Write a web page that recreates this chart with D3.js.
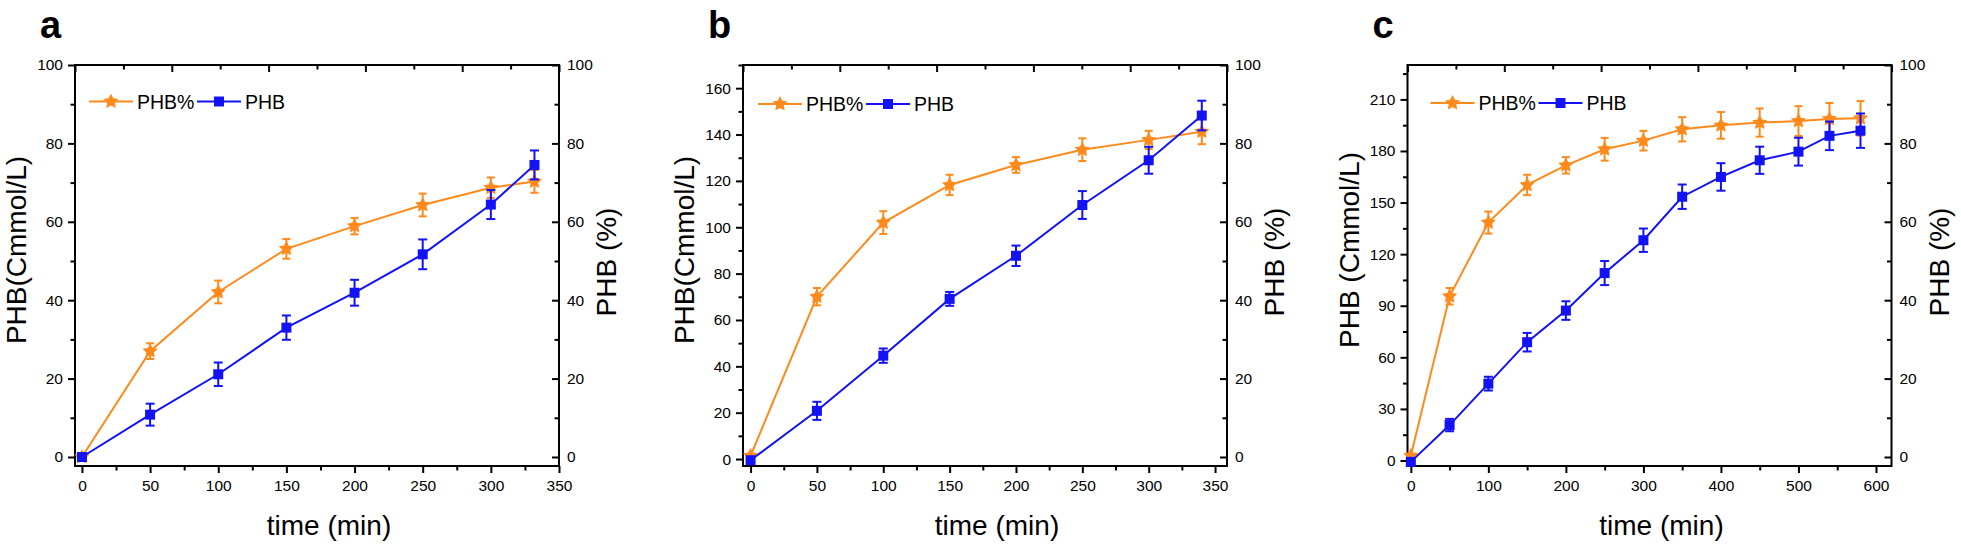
<!DOCTYPE html>
<html><head><meta charset="utf-8">
<script src="https://cdn.jsdelivr.net/npm/d3@7"></script>
<style>
html,body{margin:0;padding:0;background:#fff;}
svg{display:block;font-family:"Liberation Sans",Arial,sans-serif;}
</style></head><body>
<svg id="chart" width="1961" height="545"></svg>
<script>
// ---------------- data ----------------
const panelLabels = ["a", "b", "c"];
const seriesNames = ["PHB%", "PHB"];
const xTitle = "time (min)";
const yLeftTitles = ["PHB(Cmmol/L)", "PHB(Cmmol/L)", "PHB (Cmmol/L)"];
const yRightTitle = "PHB (%)";

const timeA = [0, 50, 100, 150, 200, 250, 300, 332];
const phbA = [0, 10.8, 21.1, 33.0, 41.9, 51.7, 64.4, 74.5];
const phbErrA = [0, 2.8, 3.0, 3.1, 3.3, 3.8, 3.7, 3.7];
const pctA = [0, 27.0, 42.1, 53.1, 58.9, 64.3, 68.7, 70.3];
const pctErrA = [0, 2.0, 2.9, 2.5, 2.1, 2.9, 2.6, 2.9];

const timeB = [0, 50, 100, 150, 200, 250, 300, 340];
const phbB = [-0.5, 20.8, 44.6, 69.1, 87.7, 109.6, 128.9, 148.2];
const phbErrB = [0, 3.9, 3.1, 3.0, 4.4, 6.0, 5.8, 6.4];
const pctB = [0.3, 40.9, 59.8, 69.4, 74.5, 78.4, 80.9, 83.0];
const pctErrB = [0, 2.2, 2.9, 2.6, 2.0, 2.9, 2.3, 3.2];

const timeC = [0, 50, 100, 150, 200, 250, 300, 350, 400, 450, 500, 540, 580];
const phbC = [-0.8, 20.6, 44.7, 68.8, 87.2, 109.0, 128.1, 153.4, 164.9, 174.6, 179.6, 188.8, 191.8];
const phbErrC = [0, 3.6, 4.0, 5.4, 5.4, 7.0, 6.8, 7.1, 8.0, 7.9, 8.1, 8.3, 10.0];
const pctC = [0.3, 41.0, 59.8, 69.4, 74.4, 78.5, 80.7, 83.6, 84.6, 85.3, 85.7, 86.2, 86.4];
const pctErrC = [0, 2.1, 2.8, 2.6, 2.1, 2.9, 2.5, 3.1, 3.4, 3.6, 3.8, 4.1, 4.4];

const xTicksA = [0, 50, 100, 150, 200, 250, 300, 350];
const xTicksB = [0, 50, 100, 150, 200, 250, 300, 350];
const xTicksC = [0, 100, 200, 300, 400, 500, 600];
const yTicksA = [0, 20, 40, 60, 80, 100];
const yTicksB = [0, 20, 40, 60, 80, 100, 120, 140, 160];
const yTicksC = [0, 30, 60, 90, 120, 150, 180, 210];
const rightTicks = [0, 20, 40, 60, 80, 100];
const topTicks = [0, 2, 4, 6, 8, 10];

// ---------------- layout ----------------
const layout = {
  top: 65, bottom: 466, width: 484,
  lefts: [75, 743, 1407.5],
  xDomains: [[-5.1, 350], [-5.7, 359], [-4.3, 620]],
  yDomains: [[-2.3, 100], [-3, 170], [-3.2, 230]],
  rightDomain: [-2.3, 100],
  legendOffsets: [14, 15, 23],
  legendYs: [101.5, 104, 103]
};
const ORANGE = "#ff8a1c";
const BLUE = "#1212f5";

// fat five-point star (Origin style), size = outer radius^2
const fatStar = {
  draw(ctx, size) {
    const R = Math.sqrt(size), r = R * 0.5;
    for (let k = 0; k < 10; k++) {
      const a = -Math.PI / 2 + k * Math.PI / 5;
      const rad = k % 2 ? r : R;
      const px = rad * Math.cos(a), py = rad * Math.sin(a);
      if (k === 0) ctx.moveTo(px, py); else ctx.lineTo(px, py);
    }
    ctx.closePath();
  }
};
const STAR_SIZE = 64, SQUARE_SIZE = 100;

const panels = [
  {time: timeA, phb: phbA, phbErr: phbErrA, pct: pctA, pctErr: pctErrA, xt: xTicksA, yt: yTicksA},
  {time: timeB, phb: phbB, phbErr: phbErrB, pct: pctB, pctErr: pctErrB, xt: xTicksB, yt: yTicksB},
  {time: timeC, phb: phbC, phbErr: phbErrC, pct: pctC, pctErr: pctErrC, xt: xTicksC, yt: yTicksC}
];

const svg = d3.select("#chart");

function minorOf(ticks, domain) {
  const step = ticks[1] - ticks[0];
  const out = [];
  for (let v = ticks[0] - step / 2; v <= domain[1] + 1e-9; v += step) {
    if (v >= domain[0]) out.push(v);
  }
  return out;
}

panels.forEach((p, i) => {
  const L = layout.lefts[i], R = L + layout.width, T = layout.top, B = layout.bottom;
  const x = d3.scaleLinear().domain(layout.xDomains[i]).range([L, R]);
  const yL = d3.scaleLinear().domain(layout.yDomains[i]).range([B, T]);
  const yR = d3.scaleLinear().domain(layout.rightDomain).range([B, T]);
  const xTop = d3.scaleLinear().domain([0, 10]).range([L, R]);
  const g = svg.append("g");

  const styleAxis = sel => {
    sel.select(".domain").remove();
    sel.selectAll("line").attr("stroke", "#000").attr("stroke-width", 2);
    sel.selectAll("text").attr("fill", "#000").style("font-size", "15.5px")
      .style("font-family", "'Liberation Sans', Arial, sans-serif");
  };

  g.append("g").attr("transform", `translate(${L},0)`)
    .call(d3.axisLeft(yL).tickValues(p.yt).tickSize(7).tickPadding(5).tickFormat(d3.format("d")))
    .call(styleAxis);
  g.append("g").attr("transform", `translate(${L},0)`)
    .call(d3.axisLeft(yL).tickValues(minorOf(p.yt, layout.yDomains[i])).tickSize(4.5).tickFormat(""))
    .call(styleAxis);
  g.append("g").attr("transform", `translate(${R},0)`)
    .call(d3.axisRight(yR).tickValues(rightTicks).tickSize(-7).tickPadding(8).tickFormat(d3.format("d")))
    .call(styleAxis);
  g.append("g").attr("transform", `translate(${R},0)`)
    .call(d3.axisRight(yR).tickValues(minorOf(rightTicks, layout.rightDomain)).tickSize(-4.5).tickFormat(""))
    .call(styleAxis);
  g.append("g").attr("transform", `translate(0,${B})`)
    .call(d3.axisBottom(x).tickValues(p.xt).tickSize(7).tickPadding(7).tickFormat(d3.format("d")))
    .call(styleAxis);
  g.append("g").attr("transform", `translate(0,${B})`)
    .call(d3.axisBottom(x).tickValues(minorOf(p.xt, layout.xDomains[i])).tickSize(4.5).tickFormat(""))
    .call(styleAxis);
  g.append("g").attr("transform", `translate(0,${T})`)
    .call(d3.axisTop(xTop).tickValues(topTicks).tickSize(-7).tickFormat(""))
    .call(styleAxis);
  g.append("g").attr("transform", `translate(0,${T})`)
    .call(d3.axisTop(xTop).tickValues([1, 3, 5, 7, 9]).tickSize(-4.5).tickFormat(""))
    .call(styleAxis);

  g.append("rect").attr("x", L).attr("y", T).attr("width", R - L).attr("height", B - T)
    .attr("fill", "none").attr("stroke", "#000").attr("stroke-width", 2);

  const series = [
    {vals: p.pct, errs: p.pctErr, y: yR, color: ORANGE, sym: fatStar, size: STAR_SIZE, cap: 8},
    {vals: p.phb, errs: p.phbErr, y: yL, color: BLUE, sym: d3.symbolSquare, size: SQUARE_SIZE, cap: 9}
  ];
  series.forEach(s => {
    const pts = p.time.map((t, k) => ({t, v: s.vals[k], e: s.errs[k]}));
    const sg = g.append("g");
    sg.append("path").datum(pts)
      .attr("d", d3.line().x(d => x(d.t)).y(d => s.y(d.v)))
      .attr("fill", "none").attr("stroke", s.color).attr("stroke-width", 2);
    const eb = sg.selectAll(".eb").data(pts.filter(d => d.e > 0)).enter().append("g");
    eb.append("line").attr("x1", d => x(d.t)).attr("x2", d => x(d.t))
      .attr("y1", d => s.y(d.v - d.e)).attr("y2", d => s.y(d.v + d.e))
      .attr("stroke", s.color).attr("stroke-width", 2);
    [-1, 1].forEach(sign => {
      eb.append("line").attr("x1", d => x(d.t) - s.cap / 2).attr("x2", d => x(d.t) + s.cap / 2)
        .attr("y1", d => s.y(d.v + sign * d.e)).attr("y2", d => s.y(d.v + sign * d.e))
        .attr("stroke", s.color).attr("stroke-width", 2);
    });
    sg.selectAll(".mk").data(pts).enter().append("path")
      .attr("transform", d => `translate(${x(d.t)},${s.y(d.v)})`)
      .attr("d", d3.symbol().type(s.sym).size(s.size))
      .attr("fill", s.color);
  });

  const lx = L + layout.legendOffsets[i], ly = layout.legendYs[i];
  const leg = [
    {name: seriesNames[0], color: ORANGE, sym: fatStar, size: STAR_SIZE, x0: 0},
    {name: seriesNames[1], color: BLUE, sym: d3.symbolSquare, size: SQUARE_SIZE, x0: 108}
  ];
  leg.forEach(l => {
    g.append("line").attr("x1", lx + l.x0).attr("x2", lx + l.x0 + 44).attr("y1", ly).attr("y2", ly)
      .attr("stroke", l.color).attr("stroke-width", 2);
    g.append("path").attr("transform", `translate(${lx + l.x0 + 22},${ly})`)
      .attr("d", d3.symbol().type(l.sym).size(l.size)).attr("fill", l.color);
    g.append("text").attr("x", lx + l.x0 + 48).attr("y", ly).attr("dy", "0.36em")
      .style("font-size", "19.5px").attr("fill", "#000").text(l.name);
  });

  g.append("text").attr("x", L - 35).attr("y", 38).style("font-size", "38px").style("font-weight", "bold")
    .attr("fill", "#000").text(panelLabels[i]);

  g.append("text").attr("x", (L + R) / 2 + 12).attr("y", 535).attr("text-anchor", "middle")
    .style("font-size", "28px").attr("fill", "#000").text(xTitle);
  g.append("text").attr("transform", `translate(${L - 49},250) rotate(-90)`).attr("text-anchor", "middle")
    .style("font-size", "28px").attr("fill", "#000").text(yLeftTitles[i]);
  g.append("text").attr("transform", `translate(${R + 57},262) rotate(-90)`).attr("text-anchor", "middle")
    .style("font-size", "28px").attr("fill", "#000").text(yRightTitle);
});
</script>
</body></html>
